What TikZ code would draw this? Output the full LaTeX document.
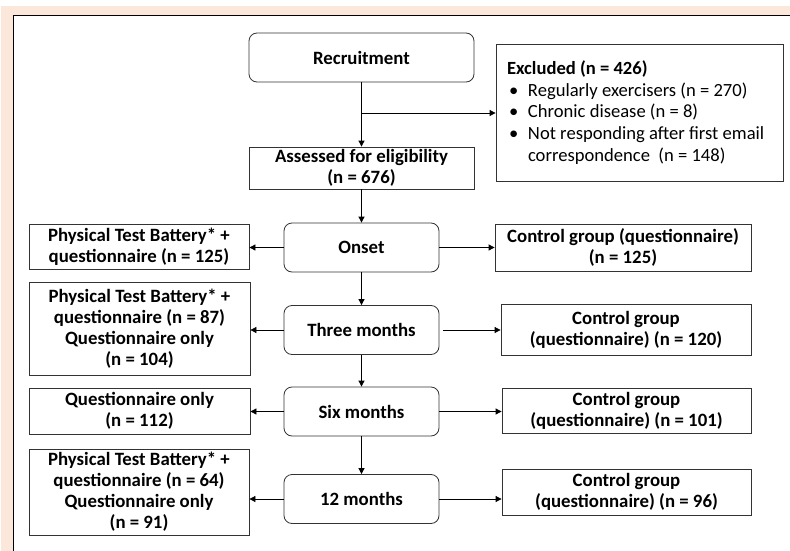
\documentclass[tikz,border=0pt]{standalone}
\usepackage{fontspec}
\setmainfont{Carlito}
\usetikzlibrary{positioning}
\usetikzlibrary{arrows.meta}
\usepackage{xcolor}
\definecolor{peach}{HTML}{FCE8DA}
\newcommand{\boxfont}{\fontsize{18.8}{21}\selectfont\bfseries}

\tikzset{
  roundbox/.style={draw=black!80, line width=0.8pt, rounded corners=8pt, minimum width=155pt, minimum height=49pt, inner sep=0pt, font=\boxfont},
  sidebox/.style={draw=black!80, line width=0.8pt, align=center, inner sep=0pt, font=\boxfont},
  arr/.style={-{Triangle[length=6pt,width=6pt]}, line width=0.8pt}
}

\begin{document}
\begin{tikzpicture}[x=1pt, y=1pt]
            \useasboundingbox (0,0) rectangle (790,-551);
            \fill[peach] (1,-6) rectangle (790,-551);
            \fill[white] (13,-16) rectangle (790,-551);
            \draw[line width=1pt] (13,-551) -- (13,-16) -- (790,-16);

            % main column
            \node[roundbox, minimum width=225pt] (recruit) at (361.5,-57.5) {Recruitment};
            \node[sidebox, minimum width=225pt, minimum height=42pt] (assessed) at (361.5,-168) {Assessed for eligibility\\(n = 676)};
            \node[draw=black!80, line width=0.8pt, align=flush left, text width=265pt, inner xsep=11pt, minimum height=137pt, font=\fontsize{18.6}{21.7}\selectfont] (excluded) at (639.5,-112.5) {\textbf{Excluded (n = 426)}\\
              \makebox[21pt][l]{\hspace{2pt}•}Regularly exercisers (n = 270)\\
              \makebox[21pt][l]{\hspace{2pt}•}Chronic disease (n = 8)\\
              \makebox[21pt][l]{\hspace{2pt}•}Not responding after first email\\
              \hspace*{21pt}correspondence \ (n = 148)};
            \node[roundbox] (onset) at (361.5,-247.5) {Onset};
            \node[roundbox] (three) at (361.5,-330) {Three months};
            \node[roundbox] (six) at (361.5,-411.5) {Six months};
            \node[roundbox] (twelve) at (361.5,-499) {12 months};

            % intervention side
            \node[sidebox, minimum width=220pt, minimum height=45pt] (testA) at (139,-246.5) {Physical Test Battery* +\\questionnaire (n = 125)};
            \node[sidebox, minimum width=221pt, minimum height=93pt] (testB) at (139.5,-328.5) {Physical Test Battery* +\\questionnaire (n = 87)\\Questionnaire only\\(n = 104)};
            \node[sidebox, minimum width=221pt, minimum height=46pt] (testC) at (139.5,-411) {Questionnaire only\\(n = 112)};
            \node[sidebox, minimum width=220pt, minimum height=86pt] (testD) at (139,-492) {Physical Test Battery* +\\questionnaire (n = 64)\\Questionnaire only\\(n = 91)};

            % control side
            \node[sidebox, minimum width=256pt, minimum height=47pt] (ctrlA) at (623,-247.5) {Control group (questionnaire)\\(n = 125)};
            \node[sidebox, minimum width=250pt, minimum height=51pt] (ctrlB) at (626,-329.5) {Control group\\(questionnaire) (n = 120)};
            \node[sidebox, minimum width=249pt, minimum height=45pt] (ctrlC) at (626.5,-410.5) {Control group\\(questionnaire) (n = 101)};
            \node[sidebox, minimum width=249pt, minimum height=46pt] (ctrlD) at (626.5,-492) {Control group\\(questionnaire) (n = 96)};

            \coordinate (split) at (361.5,-113);

            \draw[arr] (recruit) -- (assessed);
            \draw[arr] (split) -- (split -| excluded.west);
            \draw[arr] (assessed) -- (onset);
            \draw[arr] (onset) -- (three);
            \draw[arr] (three) -- (six);
            \draw[arr] (six) -- (twelve);

            \draw[arr] (onset.west) -- (onset.west -| testA.east);
            \draw[arr] (three.west) -- (three.west -| testB.east);
            \draw[arr] (six.west) -- (six.west -| testC.east);
            \draw[arr] (twelve.west) -- (twelve.west -| testD.east);

            \draw[arr] (onset.east) -- (onset.east -| ctrlA.west);
            \draw[arr, shorten <=4pt] (three.east) -- (three.east -| ctrlB.west);
            \draw[arr] (six.east) -- (six.east -| ctrlC.west);
            \draw[arr] (twelve.east) -- (twelve.east -| ctrlD.west);
        \end{tikzpicture}
\end{document}
